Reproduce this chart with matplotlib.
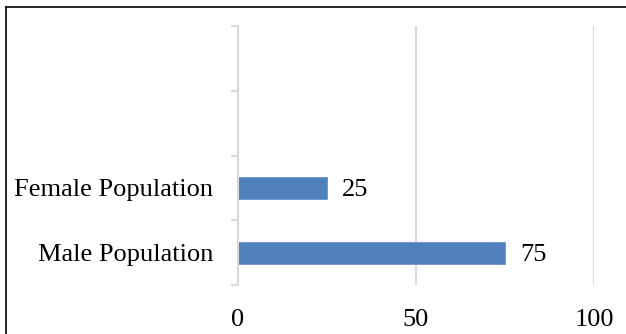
import numpy as np
import matplotlib.pyplot as plt
from matplotlib.lines import Line2D

# datos
categorias = ["Male Population", "Female Population"]
valores = [75, 25]
n_slots = 4  # el eje tiene 4 casillas, las dos de arriba vacias
xticks = [0, 50, 100]

plt.rcParams['font.family'] = ['Liberation Serif', 'DejaVu Serif']
plt.rcParams['font.size'] = 19

fig = plt.figure(figsize=(6.26, 3.34), dpi=100)
ax = fig.add_axes([238/626, 49/334, 356/626, 259/334])

gris = '#D9D9D9'
y = np.arange(len(categorias))
ax.barh(y, valores, height=0.34, color='#4F81BD', edgecolor='#6A95CA', linewidth=0.6, zorder=3)

for yi, v in zip(y, valores):
    ax.annotate(str(v), (v, yi), xytext=(11, 0), textcoords='offset points',
                va='center_baseline', ha='left', fontsize=19)

ax.set_xlim(0, 100)
ax.set_ylim(-0.5, n_slots - 0.5)
ax.set_xticks(xticks)
ax.set_yticks(y)
ax.set_yticklabels(categorias)
ax.set_yticks(np.arange(n_slots + 1) - 0.5, minor=True)

ax.tick_params(axis='y', which='major', length=0, pad=18)
ax.tick_params(axis='y', which='minor', length=5, width=1.5, color=gris, direction='out')
ax.tick_params(axis='x', length=0, pad=17)

ax.grid(axis='x', color=gris, linewidth=1.5, zorder=0)
for lado in ['top', 'right', 'bottom']:
    ax.spines[lado].set_visible(False)
ax.spines['left'].set_color(gris)
ax.spines['left'].set_linewidth(1.5)
ax.spines['left'].set_zorder(4)

# marco exterior (solo se ve arriba e izquierda)
x0, y0 = 6/626, 1 - 7/334
fig.add_artist(Line2D([x0, 1], [y0, y0], color='black', linewidth=1.2, transform=fig.transFigure))
fig.add_artist(Line2D([x0, x0], [0, y0], color='black', linewidth=1.2, transform=fig.transFigure))

fig.savefig('out.png', dpi=100)
